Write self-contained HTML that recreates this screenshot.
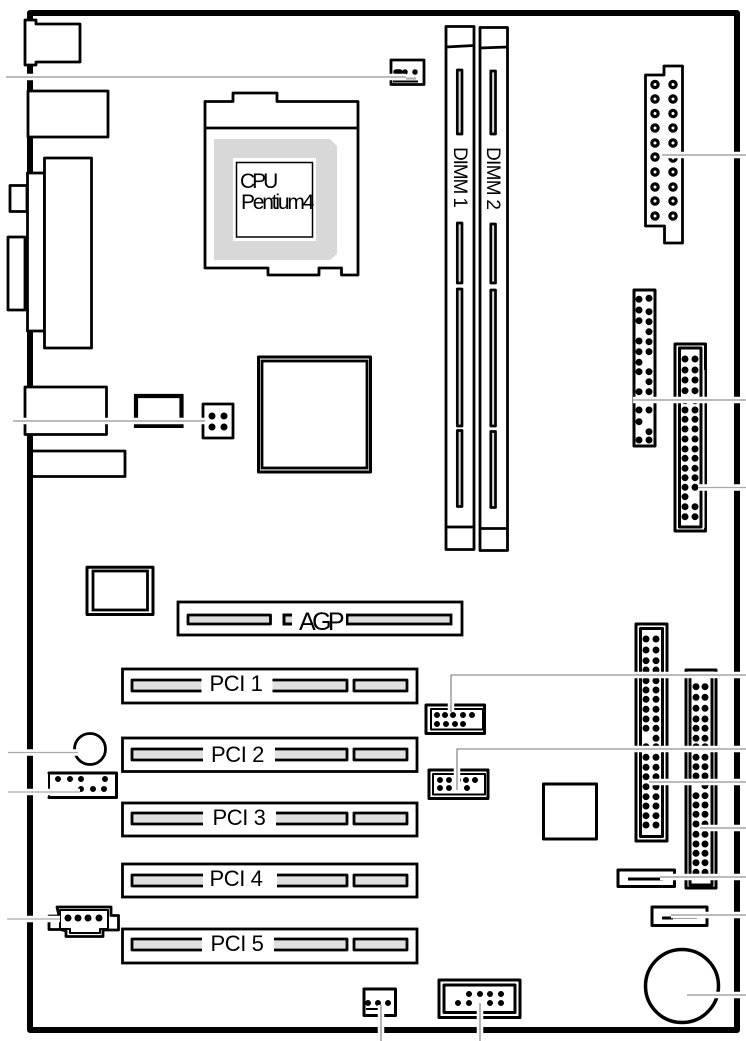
<!DOCTYPE html>
<html><head><meta charset="utf-8"><style>
html,body{margin:0;padding:0;background:#fff}
svg{display:block}
text{font-family:"Liberation Sans",sans-serif;fill:#000}
</style></head><body>
<svg width="746" height="1041" viewBox="0 0 746 1041" xmlns="http://www.w3.org/2000/svg">
<rect width="746" height="1041" fill="#fff"/>
<!-- board -->
<path d="M30 13H737V1030H30Z" fill="none" stroke="#000" stroke-width="6" stroke-linejoin="round"/>
<g fill="#fff" stroke="#000" stroke-width="2.8" stroke-linejoin="round">
<!-- back panel -->
<path d="M25 20H36V24H80V62H36V65H25Z"/>
<rect x="28" y="91" width="80" height="46"/>
<rect x="10" y="185.5" width="17" height="26"/>
<rect x="8" y="237" width="17" height="73"/>
<rect x="27.5" y="173" width="17" height="158"/>
<rect x="44.5" y="158" width="47" height="190"/>
<rect x="25" y="387" width="81.5" height="47.5"/>
<path d="M33 451H125V476.5H33"/>
<!-- CPU socket -->
<path d="M205 101.5H233V93H277V101.5H358V275H341.5V268H319V275H268V268H205Z"/>
<path d="M205 128H358" fill="none"/>
</g>
<path d="M214 139H330L337 146V254L330 260H214Z" fill="#d8d8d8"/>
<rect x="233" y="158" width="83" height="83" fill="#fff"/>
<rect x="236.5" y="162.5" width="76" height="74.5" fill="#fff" stroke="#000" stroke-width="1.5"/>
<text x="240" y="188" font-size="21" letter-spacing="-3">CPU</text>
<text x="241" y="209" font-size="21" letter-spacing="-2.2">Pentium4</text>
<!-- DIMM sockets -->
<g fill="#fff" stroke="#000" stroke-width="2.8" stroke-linejoin="round">
<rect x="446" y="26.5" width="28" height="523"/>
<path d="M446 47L474 45.5M446 527H474" fill="none"/>
<rect x="480" y="27.5" width="27.5" height="523"/>
<path d="M480 48L507.5 47M480 528.5H507.5" fill="none"/>
</g>
<g fill="#ddd" stroke="#000" stroke-width="2.7" stroke-linejoin="round">
<rect x="457.3" y="70" width="4.7" height="64"/>
<rect x="457.3" y="223" width="4.7" height="60"/>
<rect x="457.3" y="289" width="4.7" height="137"/>
<rect x="457.3" y="430.5" width="4.7" height="76"/>
<rect x="490.8" y="71" width="4.7" height="63"/>
<rect x="490.8" y="224" width="4.7" height="59"/>
<rect x="490.8" y="290" width="4.7" height="136"/>
<rect x="490.8" y="431.5" width="4.7" height="76"/>
</g>
<rect x="450" y="136" width="18" height="84" fill="#fff"/>
<rect x="484" y="136" width="18" height="84" fill="#fff"/>
<text transform="translate(454 147) rotate(90)" font-size="19" letter-spacing="-1.1">DIMM 1</text>
<text transform="translate(487 147) rotate(90)" font-size="19" letter-spacing="-.7">DIMM 2</text>
<!-- ATX power -->
<path d="M664 66H682.5V243H664.5V226H645.5V75H664Z" fill="#fff" stroke="#000" stroke-width="2.8" stroke-linejoin="round"/>
<path d="M655 84.5h0M655 99h0M655 113.5h0M655 128h0M655 143h0M655 157h0M655 172h0M655 187h0M655 201h0M655 216h0M673 84.5h0M673 99h0M673 113.5h0M673 128h0M673 143h0M673 158h0M673 172h0M673 187h0M673 201h0M673 216h0" stroke="#000" stroke-width="9.5" stroke-linecap="round" fill="none"/>
<path d="M655 84.5h0M655 99h0M655 113.5h0M655 128h0M655 143h0M655 157h0M655 172h0M655 187h0M655 201h0M655 216h0M673 84.5h0M673 99h0M673 113.5h0M673 128h0M673 143h0M673 158h0M673 172h0M673 187h0M673 201h0M673 216h0" stroke="#fff" stroke-width="3" stroke-linecap="round" fill="none"/>
<!-- headers right -->
<g fill="#fff" stroke="#000" stroke-width="3" stroke-linejoin="round">
<rect x="634" y="290" width="21" height="156"/>
<rect x="675" y="344" width="30.5" height="187"/>
<rect x="679.5" y="348" width="21.5" height="179"/>
<rect x="636" y="624" width="31" height="217"/>
<rect x="640.5" y="628.5" width="22" height="208"/>
<rect x="686" y="670" width="30" height="218"/>
<rect x="690" y="674" width="22" height="211"/>
<rect x="618" y="870" width="56.5" height="16.5"/>
<rect x="652" y="907" width="55" height="18.5"/>
<rect x="543.5" y="784" width="53" height="55"/>
</g>
<path d="M704 370V528" stroke="#fff" stroke-width="1" fill="none"/>
<path d="M628 879H663M662 918H673" stroke="#000" stroke-width="3" fill="none"/>
<path d="M662 918H697" stroke="#000" stroke-width="1.2" fill="none"/>
<g stroke="#000" stroke-width="7" stroke-linecap="round" fill="none">
<path d="M639 299.3h0M639 310h0M639 320.7h0M639 341h0M639 351.7h0M639 362.3h0M639 371.7h0M639 391.7h0M639 410h0M639 421.7h0M639 440h0M649 298.3h0M649 311.7h0M649 321.7h0M649 331.7h0M649 341.7h0M649 351.7h0M649 371.7h0M649 381.7h0M649 391.7h0M649 410h0M649 431.7h0M649 440h0"/>
<path d="M685 359h0M685 370h0M685 380h0M685 390.7h0M685 400.7h0M685 410h0M685 419.3h0M685 429h0M685 439h0M685 449h0M685 458.3h0M685 468.3h0M685 477.7h0M685 487.3h0M685 496.7h0M685 506.7h0M685 516.7h0M695 359h0M695 370h0M695 380h0M695 390.7h0M695 400.7h0M695 410h0M695 419.3h0M695 429h0M695 439h0M695 449h0M695 458.3h0M695 468.3h0M695 477.7h0M695 487.3h0M695 506.7h0M695 516.7h0"/>
<path d="M646 639h0M646 650h0M646 660.7h0M646 670h0M646 680.7h0M646 690h0M646 699.3h0M646 709.3h0M646 719h0M646 728.3h0M646 746.7h0M646 757.3h0M646 767.3h0M646 776.7h0M646 786.7h0M646 796.7h0M646 806h0M646 815.7h0M646 825h0M656 639h0M656 650h0M656 660.7h0M656 670h0M656 680.7h0M656 690h0M656 699.3h0M656 709.3h0M656 719h0M656 728.3h0M656 738.3h0M656 746.7h0M656 757.3h0M656 767.3h0M656 776.7h0M656 786.7h0M656 796.7h0M656 806h0M656 815.7h0M656 825h0"/>
<path d="M696 686.7h0M696 697.3h0M696 708.3h0M696 719h0M696 728.3h0M696 738.3h0M696 746.7h0M696 757.3h0M696 766.7h0M696 776h0M696 795.7h0M696 805h0M696 814.3h0M696 824h0M696 834.3h0M696 844h0M696 853.3h0M696 862.7h0M696 872.3h0M705 686.7h0M705 697.3h0M705 708.3h0M705 719h0M705 728.3h0M705 738.3h0M705 746.7h0M705 757.3h0M705 766.7h0M705 776h0M705 785.7h0M705 795.7h0M705 805h0M705 814.3h0M705 824h0M705 834.3h0M705 844h0M705 853.3h0M705 862.7h0M705 872.3h0"/>
</g>
<!-- battery -->
<circle cx="682" cy="986" r="36.5" fill="#fff" stroke="#000" stroke-width="3.5"/>
<!-- chipset etc -->
<g fill="#fff" stroke="#000" stroke-width="3" stroke-linejoin="round">
<rect x="258.5" y="357" width="112" height="115"/>
<rect x="87" y="567.3" width="66" height="47.2"/>
</g>
<g fill="#fff" stroke="#000" stroke-width="2.8" stroke-linejoin="miter">
<rect x="262" y="361" width="105" height="107"/>
<rect x="93" y="571" width="54.5" height="39"/>
</g>
<!-- U chip -->
<path d="M136 428V396H181.5V428" fill="none" stroke="#000" stroke-width="4.2"/>
<path d="M134 426H183" stroke="#000" stroke-width="4" fill="none"/>
<!-- CPU fan -->
<rect x="203" y="404" width="30" height="34" fill="#fff" stroke="#000" stroke-width="2.8" stroke-linejoin="round"/>
<path d="M212 416h0M224 416h0M212 427h0M224 427h0" stroke="#000" stroke-width="7" stroke-linecap="round" fill="none"/>
<!-- top fan -->
<rect x="391" y="60" width="33" height="24.5" fill="#fff" stroke="#000" stroke-width="2.8" stroke-linejoin="round"/>
<path d="M396 72h4M405 72h0M415 72h0" stroke="#000" stroke-width="5.5" stroke-linecap="round" fill="none"/>
<path d="M393 81.5H418" stroke="#000" stroke-width="2" fill="none"/>
<path d="M395 78.5H416" stroke="#aaa" stroke-width="2" fill="none"/>
<!-- AGP -->
<rect x="178" y="602" width="284" height="33" fill="#fff" stroke="#000" stroke-width="2.8"/>
<rect x="188" y="615" width="82.5" height="9" fill="#ddd" stroke="#000" stroke-width="2.8" stroke-linejoin="round"/>
<path d="M292 615H284V624H292" fill="#ddd" stroke="#000" stroke-width="3"/>
<rect x="347" y="615" width="104" height="9" fill="#ddd" stroke="#000" stroke-width="2.8"/>
<rect x="293" y="607" width="53" height="26" fill="#fff"/>
<text x="299" y="630" font-size="25" letter-spacing="-3.6">AGP</text>
<!-- PCI -->
<g fill="#fff" stroke="#000" stroke-width="2.8">
<rect x="122.5" y="669" width="294.5" height="34"/>
<rect x="122.5" y="738" width="294.5" height="33.5"/>
<rect x="122.5" y="803" width="294.5" height="33"/>
<rect x="122.5" y="864" width="294.5" height="33"/>
<rect x="122.5" y="929" width="294.5" height="34"/>
</g>
<g fill="#e0e0e0" stroke="#000" stroke-width="2.8" stroke-linejoin="round">
<rect x="132" y="680" width="72" height="11"/><rect x="270" y="680" width="77" height="11"/><rect x="354" y="680" width="53" height="11"/>
<rect x="132" y="749" width="74" height="11"/><rect x="272" y="749" width="75" height="11"/><rect x="354" y="749" width="53" height="11"/>
<rect x="132" y="813" width="74" height="11"/><rect x="273" y="813" width="74" height="11"/><rect x="354" y="813" width="53" height="11"/>
<rect x="132" y="875" width="74" height="11"/><rect x="274" y="875" width="73" height="11"/><rect x="354" y="875" width="53" height="11"/>
<rect x="132" y="939" width="72" height="11"/><rect x="271" y="939" width="76" height="11"/><rect x="354" y="939" width="53" height="11"/>
</g>
<g fill="#fff">
<rect x="201.5" y="674" width="71" height="25"/>
<rect x="203" y="743" width="72" height="25"/>
<rect x="203" y="807" width="73" height="25"/>
<rect x="203" y="869" width="74" height="25"/>
<rect x="202" y="933" width="72" height="25"/>
</g>
<g font-size="22" letter-spacing="-.4">
<text x="209.5" y="691">PCI 1</text>
<text x="211" y="762">PCI 2</text>
<text x="212.5" y="825">PCI 3</text>
<text x="209.5" y="886">PCI 4</text>
<text x="210.5" y="951">PCI 5</text>
</g>
<!-- middle headers -->
<g fill="#fff" stroke="#000" stroke-width="3" stroke-linejoin="round">
<rect x="426" y="705" width="58.5" height="28.5"/>
<rect x="431" y="709" width="52" height="20.5" stroke-width="2"/>
<rect x="429" y="770" width="59" height="28.5"/>
<rect x="433" y="774" width="52" height="20.5" stroke-width="2"/>
<rect x="439" y="980" width="81" height="37.5"/>
<rect x="444" y="985" width="71" height="27.5"/>
<rect x="364" y="989" width="31.5" height="26.5"/>
<path d="M49 773H116.5V797.5H49" stroke-linecap="round"/>
</g>
<path d="M49 773V797" stroke="#000" stroke-width="2" fill="none"/>
<g stroke="#000" stroke-width="6" stroke-linecap="round" fill="none">
<path d="M437 715h0M445 715h0M453 715h0M463 715h0M472 715h0M437 724h0M446 724h0M455 724h0M463 724h0"/>
<path d="M440 780h0M449 780h0M458 780h0M466 780h0M475 780h0M440 788h0M449 788h0M467 788h0"/>
<path d="M469 994h0M480 994h0M490 994h0M501 994h0M458 1003h0M469 1003h0M490 1003h0M501 1003h0"/>
<path d="M58 779h0M70 779h0M81 779h0M105 779h0M81 789h0M93 789h0M104 789h0"/>
<path d="M368 1003h0M378 1003h0M388 1003h0"/>
</g>
<path d="M366 1009H380" stroke="#000" stroke-width="2" fill="none"/>
<!-- round buzzer -->
<circle cx="90" cy="749" r="15.5" fill="#fff" stroke="#000" stroke-width="2.8"/>
<!-- 4-pin power -->
<path d="M59 916H49V929.5H61L66 931V936.5H103V930H118.5V915.5H111V907H57Z" fill="#fff" stroke="#000" stroke-width="2.8" stroke-linejoin="round"/>
<path d="M60 916V910H108V929H100V933H70V929H60Z" fill="#fff" stroke="#000" stroke-width="2" stroke-linejoin="round"/>
<path d="M68 918h0M78 918h0M88 918h0M99 918h0" stroke="#000" stroke-width="7" stroke-linecap="round" fill="none"/>
<!-- leader halos -->
<g stroke="#fff" stroke-width="6.5" fill="none">
<path d="M6 77H406M662 155H746M633 400H746M13 421H205M698 487.5H746M451 712V675H746M457 790V749H746M649 782H746M700 828H746M660 877H746M671 915H746M687 995H746M480 1003V1041M381 1005V1041M8 752.5H78M8 792H80M7 919H60"/>
</g>
<!-- leader lines -->
<g stroke="#777" stroke-width="1.1" fill="none">
<path d="M6 77H406M662 155H746M633 400H746M13 421H205M451 712V675H746M457 790V749H746M649 782H746M700 828H746M660 877H746M671 915H746M687 995H746M480 1003V1041M381 1005V1041"/>
</g>
<g stroke="#aaa" stroke-width="1.3" fill="none">
<path d="M698 487.5H746M8 752.5H78M8 792H80M7 919H60"/>
</g>
</svg>
</body></html>
